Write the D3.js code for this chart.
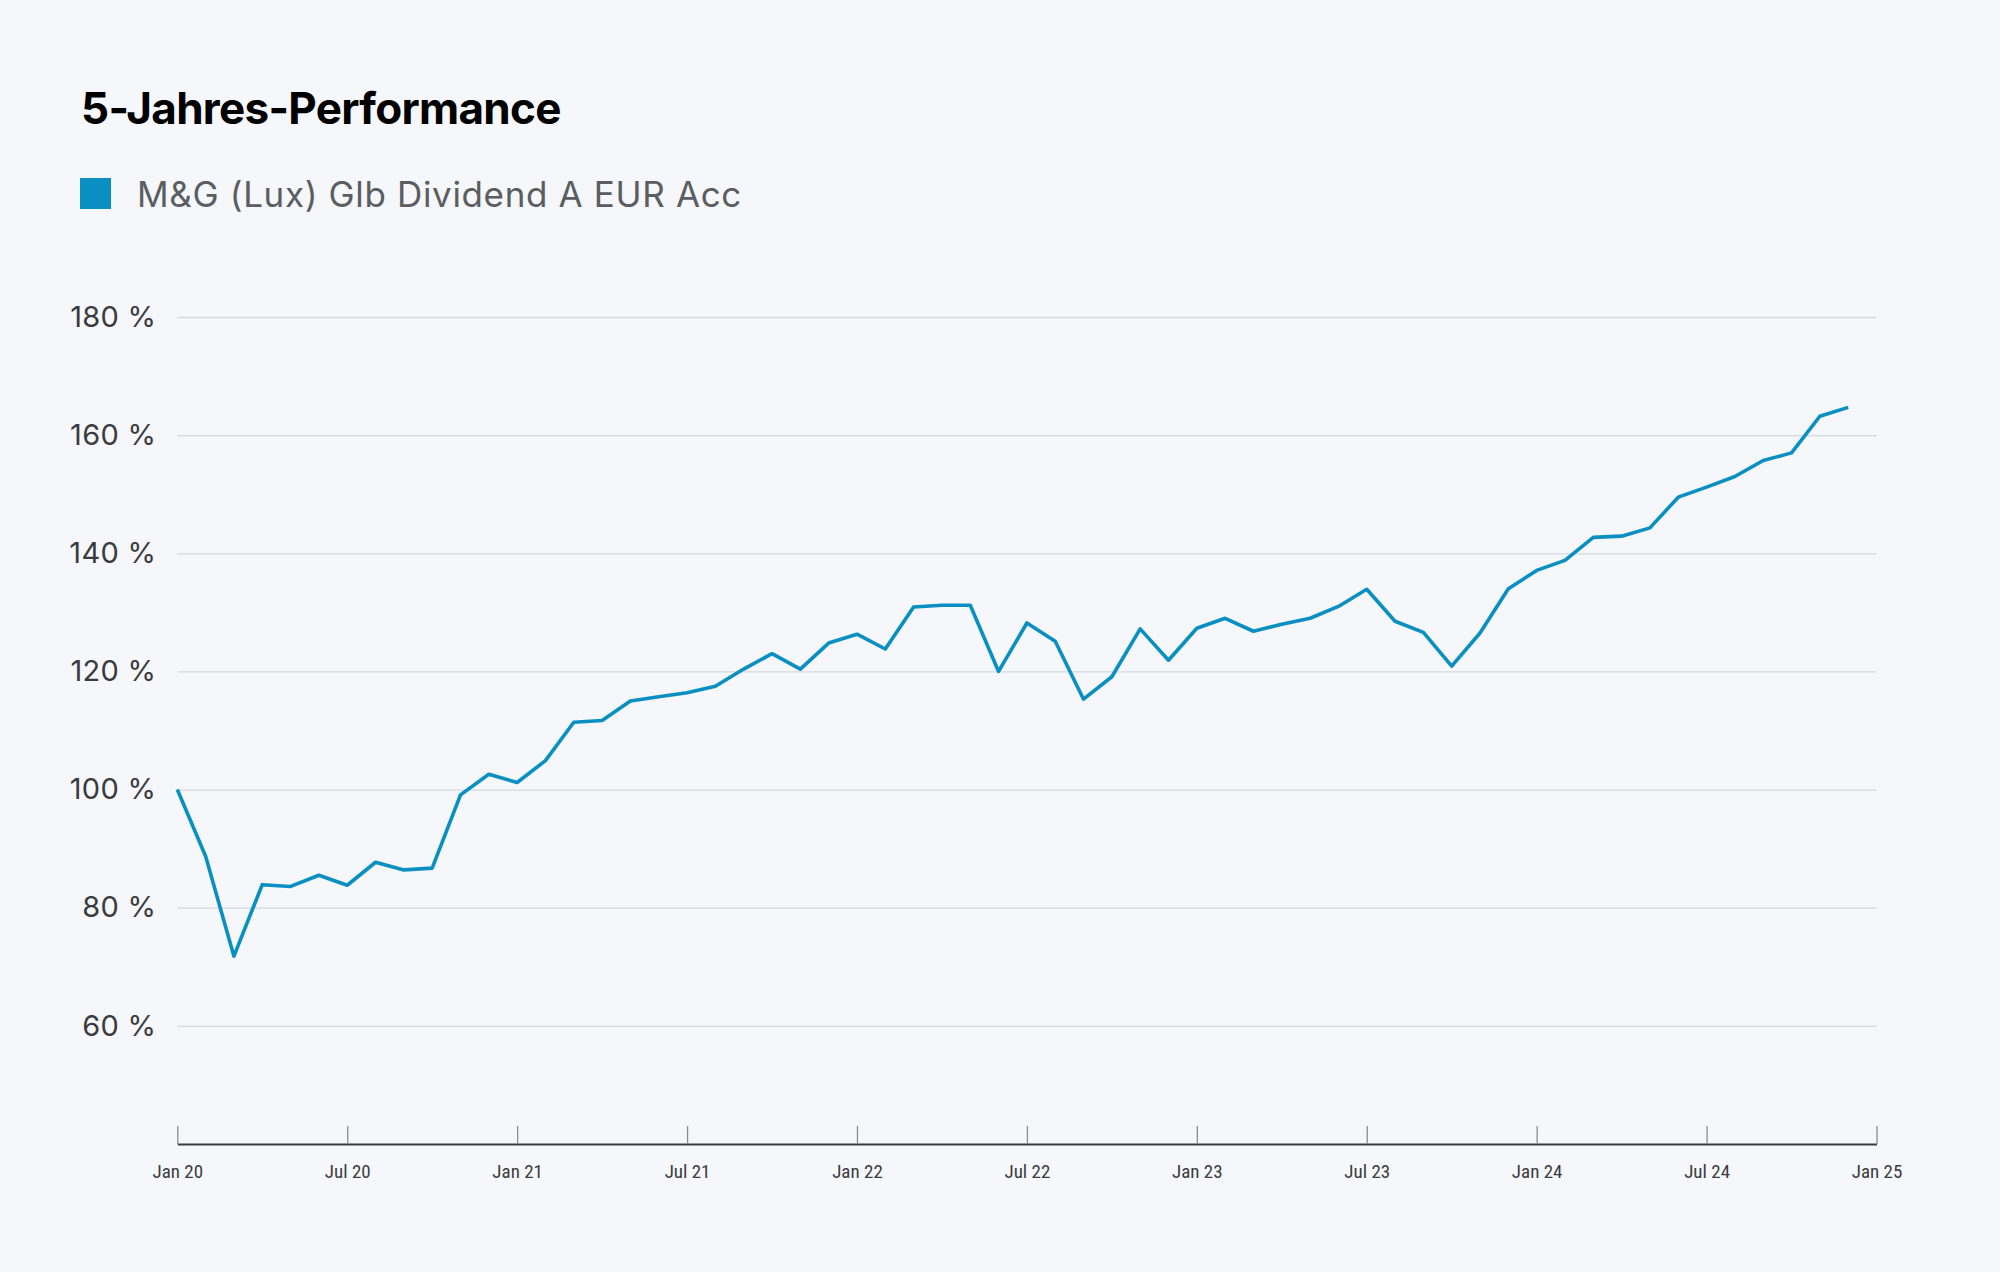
<!DOCTYPE html>
<html>
<head>
<meta charset="utf-8">
<script src="https://cdn.jsdelivr.net/npm/d3@7"></script>
<style>
  html, body { margin: 0; padding: 0; background: #f5f7fa; }
  svg { display: block; }
</style>
</head>
<body>
<svg id="chart" width="2000" height="1272"></svg>
<script>
// ---- data ----
const title = "5-Jahres-Performance";
const seriesName = "M&G (Lux) Glb Dividend A EUR Acc";
// monthly values, index 0 = Jan 2020 ... 59 = Dec 2024
const values = [
  100.0, 88.7, 71.8, 83.9, 83.6, 85.5, 83.8, 87.7, 86.4, 86.7,
  99.1, 102.6, 101.2, 104.9, 111.4, 111.7, 115.0, 115.7, 116.4, 117.5,
  120.4, 123.0, 120.4, 124.8, 126.3, 123.8, 130.9, 131.2, 131.2, 120.0,
  128.2, 125.1, 115.3, 119.1, 127.2, 121.9, 127.3, 129.0, 126.8, 128.0,
  129.0, 131.0, 133.9, 128.5, 126.6, 120.9, 126.5, 134.0, 137.1, 138.8,
  142.7, 142.9, 144.3, 149.5, 151.2, 153.0, 155.7, 157.0, 163.2, 164.7
];
const xTickMonths = [0, 6, 12, 18, 24, 30, 36, 42, 48, 54, 60];
const xTickLabels = ["Jan 20", "Jul 20", "Jan 21", "Jul 21", "Jan 22", "Jul 22", "Jan 23", "Jul 23", "Jan 24", "Jul 24", "Jan 25"];
const yTicks = [60, 80, 100, 120, 140, 160, 180];

// ---- layout ----
const svg = d3.select("#chart");
const mLeft = 177.3, mRight = 1876.5, mTop = 317, mBottom = 1144;
const lineColor = "#0a8fc3";

const x = d3.scaleLinear().domain([0, 60]).range([mLeft, mRight]);
const y = d3.scaleLinear().domain([40, 180]).range([mBottom, mTop]);

// title
svg.append("text")
  .attr("x", 81).attr("y", 124)
  .attr("font-family", "Inter, 'Open Sans', sans-serif")
  .attr("font-weight", 700)
  .attr("font-size", 44)
  .attr("letter-spacing", -0.7)
  .attr("fill", "#000")
  .text(title);

// legend
svg.append("rect")
  .attr("x", 80).attr("y", 178).attr("width", 31).attr("height", 31)
  .attr("fill", lineColor);
svg.append("text")
  .attr("x", 137).attr("y", 206.5)
  .attr("font-family", "Inter, 'Open Sans', sans-serif")
  .attr("font-size", 35)
  .attr("letter-spacing", 0.65)
  .attr("fill", "#5a5d61")
  .text(seriesName);

// grid + y labels
const yAxis = d3.axisLeft(y)
  .tickValues(yTicks)
  .tickSize(-(mRight - mLeft))
  .tickPadding(21)
  .tickFormat(d => d + " %");
const gy = svg.append("g").attr("transform", `translate(${mLeft},0)`).call(yAxis);
gy.select(".domain").remove();
gy.selectAll(".tick line").attr("stroke", "#d6d9de").attr("stroke-width", 1.3);
gy.selectAll(".tick text")
  .attr("font-family", "Inter, 'Open Sans', sans-serif")
  .attr("font-size", 29)
  .attr("letter-spacing", 0.3)
  .attr("fill", "#3a3b3e");

// x axis
const xAxis = d3.axisBottom(x)
  .tickValues(xTickMonths)
  .tickSize(0)
  .tickFormat((d, i) => xTickLabels[i]);
const gx = svg.append("g").attr("transform", `translate(0,${mBottom})`).call(xAxis);
gx.select(".domain").attr("stroke", "#3a3b3e").attr("stroke-width", 2);
gx.selectAll(".tick line").remove();
gx.selectAll(".tick").append("line")
  .attr("y1", 0).attr("y2", -18)
  .attr("stroke", "#8a8c90").attr("stroke-width", 1.3);
gx.selectAll(".tick text")
  .attr("y", 21)
  .attr("dy", "0.71em")
  .attr("font-family", "'Roboto Condensed', 'Liberation Sans Narrow', 'DejaVu Sans Condensed', Roboto, sans-serif")
  .attr("font-stretch", "condensed")
  .attr("font-size", 19)
  .attr("fill", "#3a3b3e");

// line
const line = d3.line()
  .x((d, i) => x(i))
  .y(d => y(d));
svg.append("path")
  .datum(values)
  .attr("fill", "none")
  .attr("stroke", lineColor)
  .attr("stroke-width", 3.6)
  .attr("stroke-linejoin", "round")
  .attr("d", line);
</script>
</body>
</html>
